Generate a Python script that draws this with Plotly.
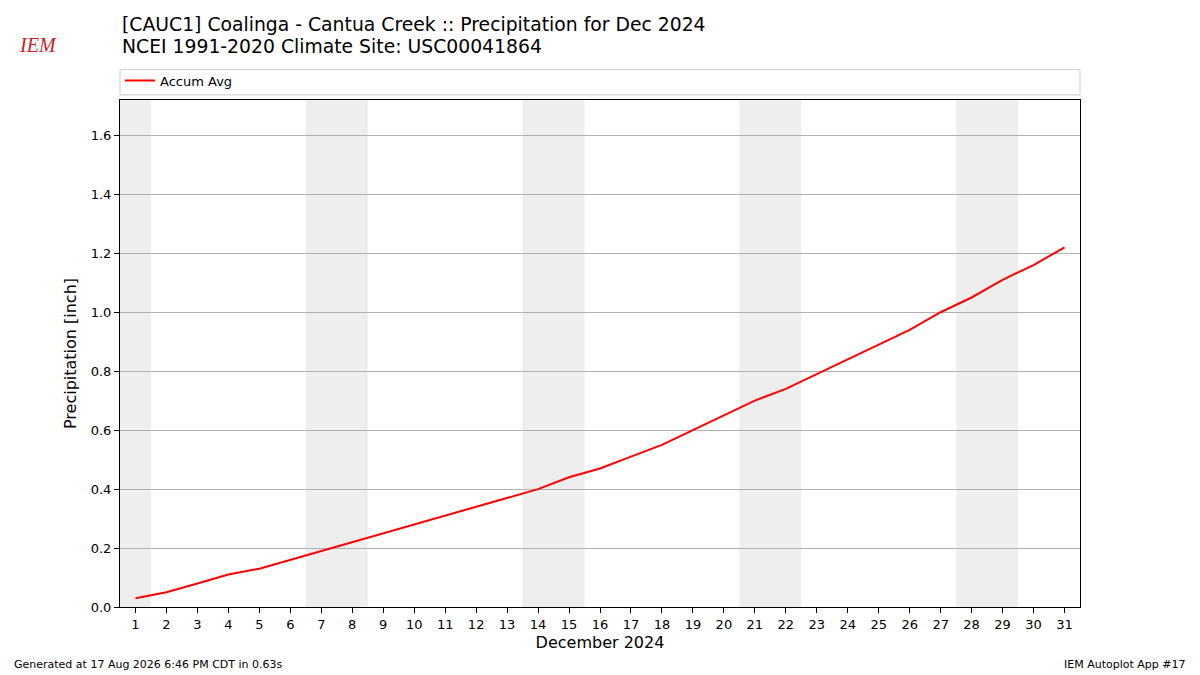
"""
IEM Autoplot #17 - précipitations cumulées moyennes (Coalinga - Cantua Creek)
"""
import plotly.graph_objects as go

# Données
days = list(range(1, 32))
accum_avg = [0.03, 0.05, 0.08, 0.11, 0.13, 0.16, 0.19, 0.22, 0.25, 0.28,
             0.31, 0.34, 0.37, 0.40, 0.44, 0.47, 0.51, 0.55, 0.60, 0.65,
             0.70, 0.74, 0.79, 0.84, 0.89, 0.94, 1.00, 1.05, 1.11, 1.16,
             1.22]
# week-ends (samedi/dimanche) de décembre 2024
weekend_spans = [(0.5, 1.5), (6.5, 8.5), (13.5, 15.5), (20.5, 22.5), (27.5, 29.5)]
y_ticks = [0.0, 0.2, 0.4, 0.6, 0.8, 1.0, 1.2, 1.4, 1.6]

FONT = "DejaVu Sans"

fig = go.Figure()

for x0, x1 in weekend_spans:
    fig.add_vrect(x0=x0, x1=x1, fillcolor="#eeeeee", line_width=0, layer="below")

fig.add_trace(go.Scatter(
    x=days, y=accum_avg, mode="lines", name="Accum Avg",
    line=dict(color="red", width=2),
))

# cadre de la légende sur toute la largeur
fig.add_shape(type="rect", xref="paper", yref="paper",
              x0=0, x1=1, y0=1.010, y1=1.060,
              line=dict(color="#cccccc", width=1), fillcolor="white")

# la page ajoute une marge de 8px : on compense dans la taille / les marges
fig.update_layout(
    width=1192, height=667,
    margin=dict(l=112, r=120, t=92, b=68),
    plot_bgcolor="white", paper_bgcolor="white",
    font=dict(family=FONT, size=13, color="black"),
    showlegend=True,
    legend=dict(x=0.0, y=1.068, xanchor="left", yanchor="top",
                orientation="h", bgcolor="rgba(0,0,0,0)",
                font=dict(size=13)),
    xaxis=dict(
        range=[0.5, 31.5], tickmode="array", tickvals=days,
        ticktext=[str(d) for d in days],
        showgrid=False, zeroline=False,
        showline=True, linecolor="black", linewidth=1, mirror=True,
        ticks="outside", ticklen=5, tickcolor="black",
        tickfont=dict(size=13),
        title=dict(text="December 2024", font=dict(size=16), standoff=6),
    ),
    yaxis=dict(
        range=[0, 1.72], tickmode="array", tickvals=y_ticks,
        ticktext=[f"{v:.1f}" for v in y_ticks],
        showgrid=True, gridcolor="#b0b0b0", gridwidth=1, zeroline=False,
        showline=True, linecolor="black", linewidth=1, mirror=True,
        ticks="outside", ticklen=5, tickcolor="black",
        tickfont=dict(size=13),
        title=dict(text="Precipitation [inch]", font=dict(size=16), standoff=10),
    ),
)

# titres
fig.add_annotation(text="[CAUC1] Coalinga - Cantua Creek :: Precipitation for Dec 2024",
                   xref="paper", yref="paper", x=0, y=1.0 + 76 / 507,
                   xanchor="left", yanchor="middle", showarrow=False,
                   font=dict(size=18.8))
fig.add_annotation(text="NCEI 1991-2020 Climate Site: USC00041864",
                   xref="paper", yref="paper", x=0, y=1.0 + 53 / 507,
                   xanchor="left", yanchor="middle", showarrow=False,
                   font=dict(size=18.8))

# logo IEM (approximation texte)
fig.add_annotation(text="<i>IEM</i>", xref="paper", yref="paper",
                   x=-82 / 960, y=1.0 + 55 / 507, xanchor="center", yanchor="middle",
                   showarrow=False,
                   font=dict(family="Liberation Serif", size=20, color="#cc2222"))

# pied de page
fig.add_annotation(text="Generated at 17 Aug 2026 6:46 PM CDT in 0.63s",
                   xref="paper", yref="paper", x=-108 / 960, y=-57 / 507,
                   xanchor="left", yanchor="middle", showarrow=False,
                   font=dict(size=11))
fig.add_annotation(text="IEM Autoplot App #17",
                   xref="paper", yref="paper", x=1.0 + 108 / 960, y=-57 / 507,
                   xanchor="right", yanchor="middle", showarrow=False,
                   font=dict(size=11))

fig.write_html("out.html")
